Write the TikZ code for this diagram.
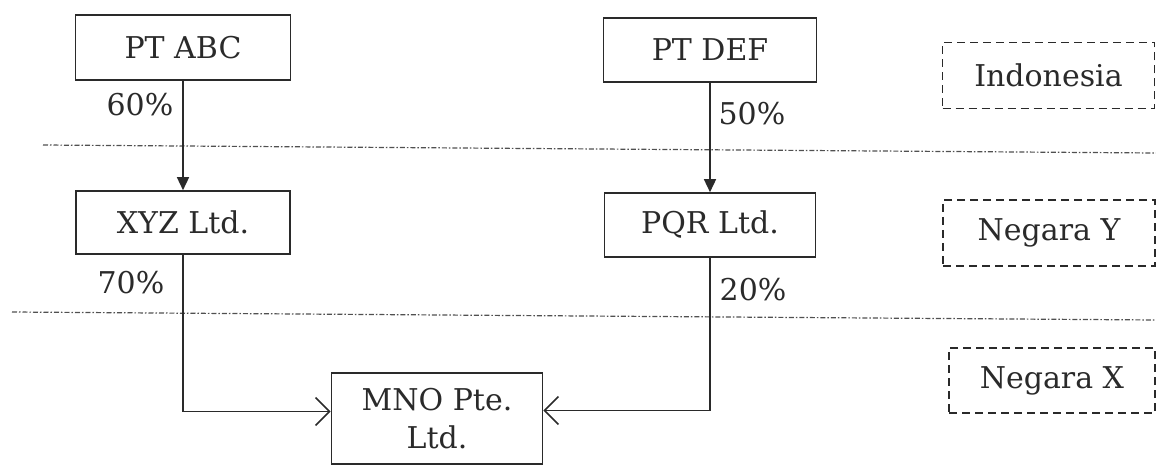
\documentclass[tikz,border=0pt]{standalone}
\usepackage{fontspec}
\setmainfont{DejaVu Serif}
\usetikzlibrary{arrows.meta}
\definecolor{ink}{HTML}{2a2a2a}
\definecolor{sep}{HTML}{505050}
\tikzset{
  every node/.style={font=\fontsize{30pt}{38pt}\selectfont, text=ink},
  entity/.style={draw=ink, line width=1.6pt, inner sep=0pt, minimum width=213pt, minimum height=64pt, align=center},
  region/.style={draw=ink, line width=1.6pt, dash pattern=on 8pt off 5pt, inner sep=0pt, minimum width=212pt, minimum height=66pt},
  own/.style={draw=ink, line width=1.5pt, -{Triangle[length=13pt,width=12pt]}},
  into/.style={draw=ink, line width=1.5pt, -{Straight Barb[length=14pt,width=28pt,line width=1.6pt]}},
  border/.style={draw=sep, line width=1.2pt, dash pattern=on 5pt off 2pt on 1.5pt off 2pt},
  pct/.style={inner sep=0pt}
}
\begin{document}
\begin{tikzpicture}[x=1pt,y=-1pt]
\useasboundingbox (0,0) rectangle (1156,465);
% region borders
\coordinate (b1a) at (43,145);
\coordinate (b1b) at (1156,153);
\coordinate (b2a) at (12,312);
\coordinate (b2b) at (1156,320);
\draw[border] (b1a) -- (b1b);
\draw[border] (b2a) -- (b2b);
% entities
\node[entity, minimum width=215pt, minimum height=65pt] (abc) at (183,47.5) {PT ABC};
\node[entity] (def) at (710,50) {PT DEF};
\node[entity, minimum width=214pt, minimum height=63pt] (xyz) at (183,222.5) {XYZ Ltd.};
\node[entity, minimum width=211pt] (pqr) at (710,225) {PQR Ltd.};
\node[entity, minimum width=211pt, minimum height=91pt] (mno) at (437,418.5) {MNO Pte.\\Ltd.};
% country labels
\node[region] (ind) at (1048.5,75.5) {Indonesia};
\node[region] (ny) at (1049,233) {Negara Y};
\node[region, minimum width=206pt, minimum height=65pt] (nx) at (1052,380.5) {Negara X};
% ownership arrows
\draw[own] (abc.south) -- (xyz.north);
\draw[own] (def.south) -- (pqr.north);
\draw[into] (xyz.south) |- ([yshift=7pt]mno.west);
\draw[into] (pqr.south) |- ([yshift=8pt]mno.east);
% percentages
\node[pct] (p60) at (140,105) {60\%};
\node[pct] (p50) at (752,114) {50\%};
\node[pct] (p70) at (131,283) {70\%};
\node[pct] (p20) at (753,290) {20\%};
\end{tikzpicture}
\end{document}
